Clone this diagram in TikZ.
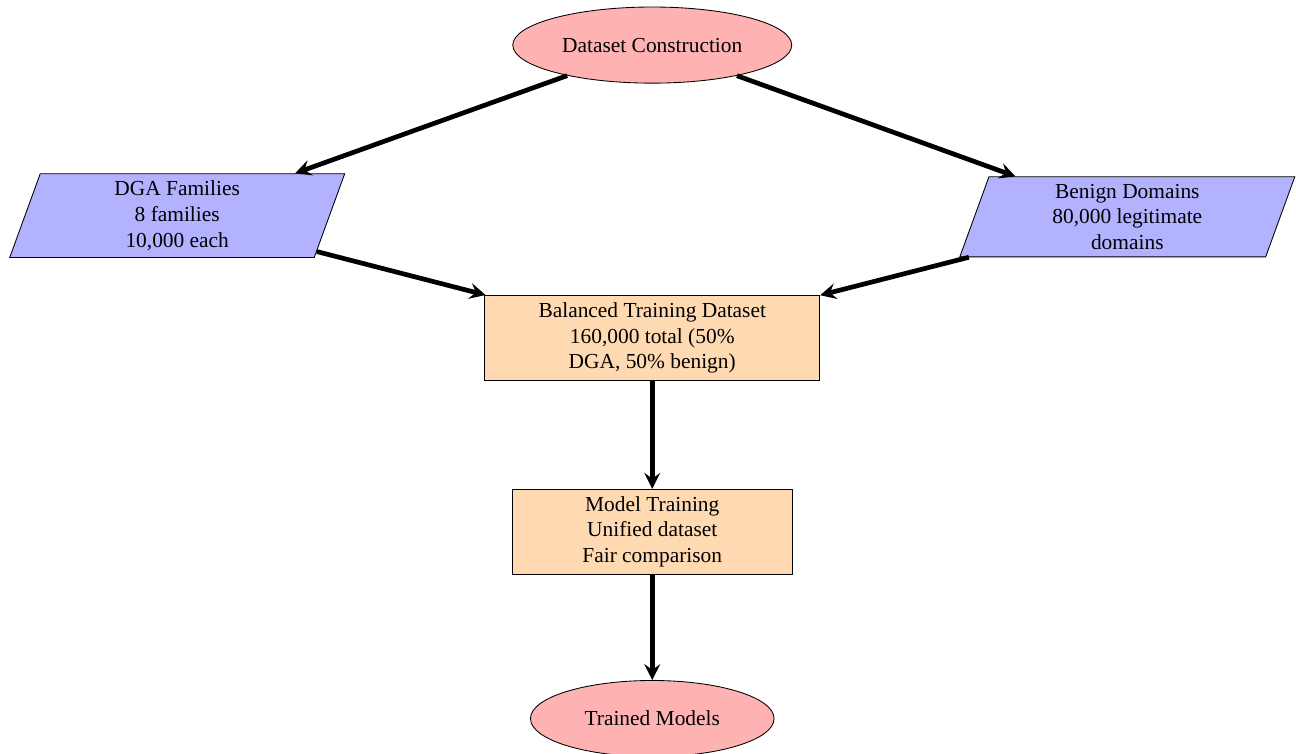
\documentclass[tikz,border=0pt]{standalone}
\usepackage{fontspec}
\setmainfont{Liberation Serif}
\usetikzlibrary{shapes.geometric,positioning,arrows}

\begin{document}
\begin{tikzpicture}
        [startstop/.style={ellipse, draw, fill=red!30, minimum width=4cm, minimum height=1.25cm, inner sep=4pt, align=center},
         dataio/.style={trapezium, trapezium left angle=70, trapezium right angle=110,
                        trapezium stretches body, draw, fill=blue!30, minimum width=5.5cm, align=center},
         procbox/.style={rectangle, draw, fill=orange!30, align=center},
         flow/.style={->, >=stealth, line width=2.2pt}]

        \useasboundingbox (-10.71,0.74) rectangle (10.57,-11.64);

        \node[startstop] (construction) at (0,0) {Dataset Construction};
        \node[dataio] (dga) at (-7.8,-2.8) {DGA Families\\8 families\\10,000 each};
        \node[dataio] (benign) at (7.8,-2.82) {Benign Domains\\80,000 legitimate\\domains};
        \node[procbox, minimum width=5.5cm] (balanced) at (0,-4.81)
                {Balanced Training Dataset\\160,000 total (50\%\\DGA, 50\% benign)};
        \node[procbox, minimum width=4.6cm] (training) [below=1.77cm of balanced]
                {Model Training\\Unified dataset\\Fair comparison};
        \node[startstop] (trained) [below=1.73cm of training] {Trained Models};

        \draw[flow] (construction) -- (dga);
        \draw[flow] (construction) -- (benign);
        \draw[flow] (dga) -- (balanced);
        \draw[flow] (benign) -- (balanced);
        \draw[flow] (balanced) -- (training);
        \draw[flow] (training) -- (trained);
\end{tikzpicture}
\end{document}
